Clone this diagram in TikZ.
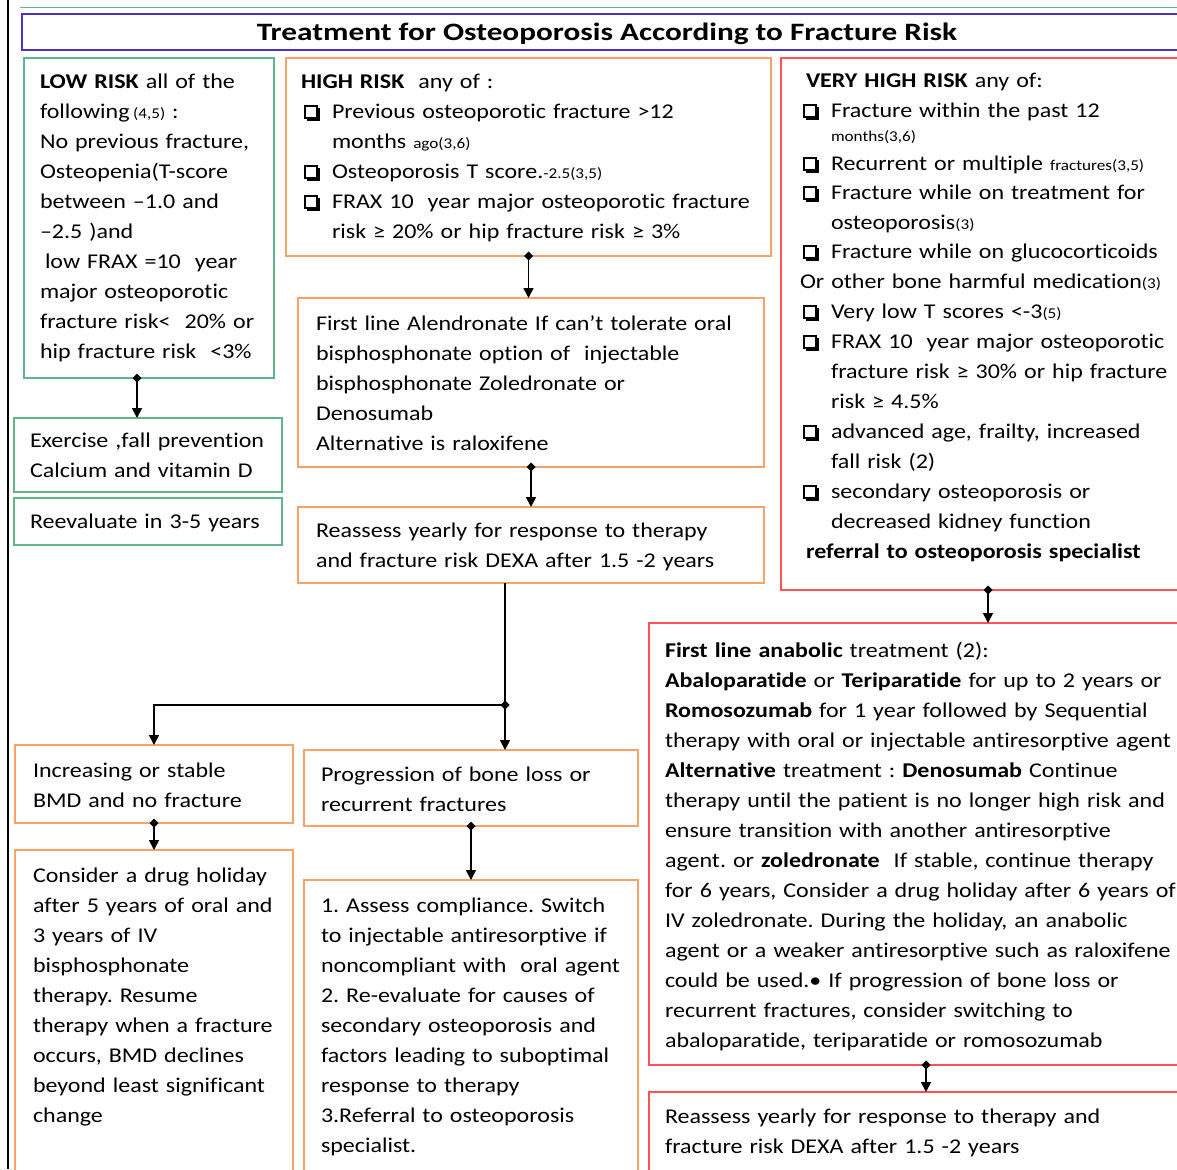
\documentclass[tikz,border=0pt]{standalone}
\usepackage{fontspec}
\setmainfont{Carlito}[FakeStretch=1.143,Ligatures=NoCommon]
\newfontfamily\ttlfont{Carlito}[FakeStretch=1.25,Ligatures=NoCommon]
\usetikzlibrary{arrows.meta}
\definecolor{grn}{RGB}{96,182,138}
\definecolor{org}{RGB}{245,163,105}
\definecolor{rd}{RGB}{255,82,82}
\definecolor{ttl}{RGB}{72,52,205}
\newcommand\bodyf{\fontsize{21}{30}\selectfont\frenchspacing}
\newcommand\sm[1]{{\fontsize{15}{30}\selectfont #1}}
\newcommand\cbglyph{%
  \makebox[0pt][l]{\raisebox{-2.2pt}{\hspace*{2.6pt}\rule{13.5pt}{13.5pt}}}%
  \makebox[0pt][l]{\rule{13.5pt}{13.5pt}}%
  \makebox[0pt][l]{\raisebox{1.5pt}{\hspace*{1.5pt}\textcolor{white}{\rule{10.5pt}{10.5pt}}}}}
\newcommand\cbx{\makebox[28pt][l]{\cbglyph}}
\newcommand\ind{\hspace*{28pt}}
\begin{document}
\begin{tikzpicture}[x=1pt,y=-1pt,
  bx/.style={draw,line width=1.8pt,inner sep=0pt,outer sep=0pt,anchor=north west},
  gbox/.style={bx,draw=grn},
  obox/.style={bx,draw=org},
  rbox/.style={bx,draw=rd},
  txt/.style={anchor=base west,inner sep=0pt,outer sep=0pt,text width=560pt,align=left,font=\bodyf},
  wire/.style={line width=1.6pt},
  conn/.style={wire,{Diamond[length=9pt,width=9pt]}-{Triangle[length=10pt,width=10pt]},shorten <=-4.5pt},
]
\useasboundingbox (0,0) rectangle (1177,1169);
\clip (0,0) rectangle (1177,1169);
\fill[white] (0,0) rectangle (1177,1169);

% frame lines
\draw[line width=1.4pt] (8,0) -- (8,1169);
\draw[grn, line width=1pt] (20,8) -- (1177,8);

% title
\node[bx, draw=ttl, line width=2.6pt, minimum width=1170pt, minimum height=36pt] (tbox) at (22,14) {};
\node[anchor=base, inner sep=0pt, font=\ttlfont\bfseries\fontsize{25}{25}\selectfont] (title) at (607,41) {Treatment for Osteoporosis According to Fracture Risk};

% boxes
\node[gbox, minimum width=250pt, minimum height=320pt] (low) at (24,58) {};
\node[obox, minimum width=485pt, minimum height=198pt] (high) at (286,58) {};
\node[rbox, minimum width=414pt, minimum height=532pt] (vh) at (781,58) {};
\node[gbox, minimum width=268pt, minimum height=74pt] (ex) at (14,418) {};
\node[gbox, minimum width=268pt, minimum height=47pt] (rev) at (14,498) {};
\node[obox, minimum width=466pt, minimum height=169pt] (alen) at (298,298) {};
\node[obox, minimum width=466pt, minimum height=76pt] (ro) at (298,507) {};
\node[rbox, minimum width=554pt, minimum height=442pt] (anab) at (649,623) {};
\node[rbox, minimum width=554pt, minimum height=90pt] (rr) at (649,1092) {};
\node[obox, minimum width=278pt, minimum height=78pt] (inc) at (15,745) {};
\node[obox, minimum width=334pt, minimum height=76pt] (prog) at (304,750) {};
\node[obox, minimum width=278pt, minimum height=330pt] (hol) at (15,850) {};
\node[obox, minimum width=334pt, minimum height=300pt] (ass) at (304,880) {};

% texts
\node[txt] (tlow) at (40,89) {\textbf{LOW RISK} all of the\\
following\,\sm{(4,5)} :\\
No previous fracture,\\
Osteopenia(T-score\\
between –1.0 and\\
–2.5 )and\\
\hspace*{5pt}low FRAX =10\ \ year\\
major osteoporotic\\
fracture risk<\ \ 20\% or\\
hip fracture risk\ \ <3\%};

\node[txt] (thigh) at (304,89) {\hspace*{-3pt}\textbf{HIGH RISK}\ \ any of :\\
\cbx Previous osteoporotic fracture >12\\
\ind months \sm{ago(3,6)}\\
\cbx Osteoporosis T score.\sm{-2.5(3,5)}\\
\cbx FRAX 10\ \ year major osteoporotic fracture\\
\ind risk ≥ 20\% or hip fracture risk ≥ 3\%};

\node[txt] (tvh) at (803,88) {\hspace*{3pt}\textbf{VERY HIGH RISK} any of:\\
\cbx Fracture within the past 12\\[-6pt]
\ind\sm{months(3,6)}\\[-1pt]
\cbx Recurrent or multiple \sm{fractures(3,5)}\\[-1pt]
\cbx Fracture while on treatment for\\
\ind osteoporosis\sm{(3)}\\[-1pt]
\cbx Fracture while on glucocorticoids\\
\hspace*{-3pt}Or other bone harmful medication\sm{(3)}\\
\cbx Very low T scores <-3\sm{(5)}\\
\cbx FRAX 10\ \ year major osteoporotic\\
\ind fracture risk ≥ 30\% or hip fracture\\
\ind risk ≥ 4.5\%\\
\cbx advanced age, frailty, increased\\
\ind fall risk (2)\\
\cbx secondary osteoporosis or\\
\ind decreased kidney function\\
\hspace*{3pt}\textbf{referral to osteoporosis specialist}};

\node[txt] (tex) at (30,447) {Exercise ,fall prevention\\Calcium and vitamin D};
\node[txt] (trev) at (30,528) {Reevaluate in 3-5 years};

\node[txt] (talen) at (316,330) {First line Alendronate If can’t tolerate oral\\
bisphosphonate option of\ \ injectable\\
bisphosphonate Zoledronate or\\
Denosumab\\
Alternative is raloxifene};

\node[txt] (tro) at (316,537) {Reassess yearly for response to therapy\\
and fracture risk DEXA after 1.5 -2 years};

\node[txt] (tanab) at (665,657) {\textbf{First line anabolic} treatment (2):\\
\textbf{Abaloparatide} or \textbf{Teriparatide} for up to 2 years or\\
\textbf{Romosozumab} for 1 year followed by Sequential\\
therapy with oral or injectable antiresorptive agent\\
\textbf{Alternative} treatment : \textbf{Denosumab} Continue\\
therapy until the patient is no longer high risk and\\
ensure transition with another antiresorptive\\
agent. or \textbf{zoledronate}\ \ If stable, continue therapy\\
for 6 years, Consider a drug holiday after 6 years of\\
IV zoledronate. During the holiday, an anabolic\\
agent or a weaker antiresorptive such as raloxifene\\
could be used.• If progression of bone loss or\\
recurrent fractures, consider switching to\\
abaloparatide, teriparatide or romosozumab};

\node[txt] (trr) at (665,1123) {Reassess yearly for response to therapy and\\
fracture risk DEXA after 1.5 -2 years};

\node[txt] (tinc) at (33,777) {Increasing or stable\\BMD and no fracture};
\node[txt] (tprog) at (321,781) {Progression of bone loss or\\recurrent fractures};

\node[txt] (thol) at (33,882) {Consider a drug holiday\\
after 5 years of oral and\\
3 years of IV\\
bisphosphonate\\
therapy. Resume\\
therapy when a fracture\\
occurs, BMD declines\\
beyond least significant\\
change};

\node[txt] (tass) at (321,912) {1. Assess compliance. Switch\\
to injectable antiresorptive if\\
noncompliant with\ \ oral agent\\
2. Re-evaluate for causes of\\
secondary osteoporosis and\\
factors leading to suboptimal\\
response to therapy\\
3.Referral to osteoporosis\\
specialist.};

% connectors
\coordinate (xa) at (137,0);
\coordinate (j) at (505,705);
\draw[conn] (low.south -| xa) -- (ex.north -| xa);
\draw[conn] (high.south) -- (high.south |- alen.north);
\draw[conn] (alen.south) -- (ro.north);
\draw[wire] (ro.south -| j) -- (j);
\draw[conn] (j) -- (prog.north -| j);
\draw[wire,-{Triangle[length=10pt,width=10pt]}] (j) -| (inc.north);
\draw[conn] (inc.south) -- (hol.north);
\draw[conn] (prog.south) -- (ass.north);
\draw[conn] (vh.south) -- (vh.south |- anab.north);
\draw[conn] (anab.south) -- (rr.north);
\end{tikzpicture}
\end{document}
